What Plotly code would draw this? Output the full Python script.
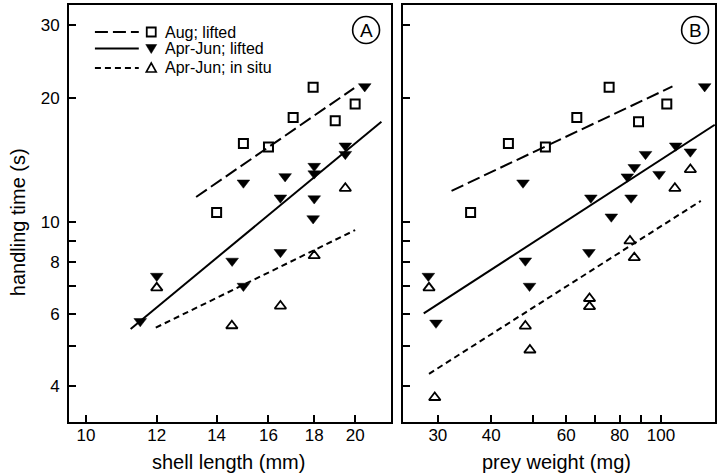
import plotly.graph_objects as go
from plotly.subplots import make_subplots
import math

# ---------------- data ----------------
# Panel A: shell length (mm) vs handling time (s)
a_aug_len = [14.0, 15.0, 16.0, 17.05, 17.95, 19.0, 20.0]
a_aug_time = [10.55, 15.5, 15.2, 17.9, 21.2, 17.6, 19.3]

a_lift_len = [11.5, 12.0, 14.57, 15.0, 15.0, 16.5, 16.7, 16.5, 18.0, 18.0, 18.0, 17.95, 19.5, 19.5, 20.5]
a_lift_time = [5.75, 7.4, 8.05, 7.0, 12.45, 8.45, 12.9, 11.45, 13.66, 13.1, 11.4, 10.2, 15.3, 14.6, 21.3]

a_situ_len = [12.0, 14.56, 16.5, 18.0, 19.5]
a_situ_time = [6.93, 5.61, 6.26, 8.29, 12.07]

a_fit_aug_x = [13.28, 19.95]
a_fit_aug_y = [11.5, 21.1]
a_fit_lift_x = [11.22, 21.4]
a_fit_lift_y = [5.51, 17.5]
a_fit_situ_x = [11.97, 20.0]
a_fit_situ_y = [5.55, 9.56]

# Panel B: prey weight (mg) vs handling time (s)
b_aug_wt = [35.8, 43.9, 53.6, 63.5, 75.6, 88.6, 103.2]
b_aug_time = [10.55, 15.5, 15.2, 17.9, 21.2, 17.5, 19.3]

b_lift_wt = [28.5, 29.7, 48.1, 49.2, 67.8, 47.5, 68.5, 76.5, 85.1, 83.4, 86.6, 92.0, 99.0, 108.3, 117.2, 126.6]
b_lift_time = [7.4, 5.7, 8.06, 7.0, 8.45, 12.45, 11.45, 10.3, 11.45, 12.88, 13.57, 14.6, 13.06, 15.3, 14.8, 21.3]

b_situ_wt = [28.6, 29.5, 48.1, 49.3, 68.0, 68.0, 84.6, 86.6, 107.8, 117.2]
b_situ_time = [6.93, 3.76, 5.6, 4.9, 6.53, 6.24, 9.0, 8.2, 12.07, 13.4]

b_fit_aug_x = [32.3, 106.4]
b_fit_aug_y = [11.9, 21.3]
b_fit_lift_x = [27.8, 133.7]
b_fit_lift_y = [6.01, 17.2]
b_fit_situ_x = [28.6, 124.0]
b_fit_situ_y = [4.29, 11.25]

y_ticks = [4, 5, 6, 7, 8, 9, 10, 20, 30]
y_ticktext = ["4", "", "6", "", "8", "", "10", "20", "30"]
a_xticks = [10, 12, 14, 16, 18, 20]
a_xticktext = ["10", "12", "14", "16", "18", "20"]
b_xticks = [30, 40, 50, 60, 70, 80, 90, 100]
b_xticktext = ["30", "40", "", "60", "", "80", "", "100"]

legend_labels = ["Aug; lifted", "Apr-Jun; lifted", "Apr-Jun; in situ"]

# ---------------- styling ----------------
FONT = "Liberation Sans, Arial, Helvetica, sans-serif"
W_FIG, H_FIG = 717, 474
L, T, R, B = 69, 5, 0, 52
PW, PH = W_FIG - L - R, H_FIG - T - B


def px(x):
    return (x - L) / PW


def py(y):
    return (T + PH - y) / PH


fig = make_subplots(rows=1, cols=2, horizontal_spacing=0.0)

dash_long = "13px,5px"
dash_short = "6px,4px"
lw = 2

sq = dict(symbol="square-open", size=9, color="black", line=dict(color="black", width=2))
tdown = dict(symbol="triangle-down", size=11, color="black", line=dict(color="black", width=0.5))
tup = dict(symbol="triangle-up-open", size=10, color="black", line=dict(color="black", width=1.8))

for col, (fx1, fy1, fx2, fy2, fx3, fy3, ax, ay, lx, ly, sx, sy) in enumerate([
    (a_fit_aug_x, a_fit_aug_y, a_fit_lift_x, a_fit_lift_y, a_fit_situ_x, a_fit_situ_y,
     a_aug_len, a_aug_time, a_lift_len, a_lift_time, a_situ_len, a_situ_time),
    (b_fit_aug_x, b_fit_aug_y, b_fit_lift_x, b_fit_lift_y, b_fit_situ_x, b_fit_situ_y,
     b_aug_wt, b_aug_time, b_lift_wt, b_lift_time, b_situ_wt, b_situ_time),
], start=1):
    fig.add_trace(go.Scatter(x=fx1, y=fy1, mode="lines",
                             line=dict(color="black", width=lw, dash=dash_long),
                             showlegend=False), row=1, col=col)
    fig.add_trace(go.Scatter(x=fx2, y=fy2, mode="lines",
                             line=dict(color="black", width=lw),
                             showlegend=False), row=1, col=col)
    fig.add_trace(go.Scatter(x=fx3, y=fy3, mode="lines",
                             line=dict(color="black", width=lw, dash=dash_short),
                             showlegend=False), row=1, col=col)
    fig.add_trace(go.Scatter(x=ax, y=ay, mode="markers", marker=sq,
                             showlegend=False), row=1, col=col)
    fig.add_trace(go.Scatter(x=lx, y=ly, mode="markers", marker=tdown,
                             showlegend=False), row=1, col=col)
    fig.add_trace(go.Scatter(x=sx, y=sy, mode="markers", marker=tup,
                             showlegend=False), row=1, col=col)

axis_common = dict(type="log", showline=True, linecolor="black", linewidth=2,
                   mirror=True, ticks="inside", ticklen=7, tickwidth=1.5,
                   tickcolor="black", showgrid=False, zeroline=False,
                   tickfont=dict(family=FONT, size=17, color="black"))

yrange = [math.log10(30) - (422 - 25) / 413.0, math.log10(30) + (25 - 5) / 413.0]

fig.update_xaxes(row=1, col=1, domain=[0, (392 - L) / PW],
                 range=[1 - 17 / 897.0, 1 + (392 - 86) / 897.0],
                 tickvals=a_xticks, ticktext=a_xticktext, ticklabelstandoff=-3,
                 **axis_common)
fig.update_xaxes(row=1, col=2, domain=[(404 - L) / PW, 1],
                 range=[math.log10(30) - 35 / 428.0, math.log10(30) + 278 / 428.0],
                 tickvals=b_xticks, ticktext=b_xticktext, ticklabelstandoff=-3,
                 **axis_common)
fig.update_yaxes(row=1, col=1, range=yrange, tickvals=y_ticks, ticktext=y_ticktext,
                 ticklabelstandoff=4, **axis_common)
fig.update_yaxes(row=1, col=2, range=yrange, tickvals=y_ticks, ticktext=y_ticktext,
                 showticklabels=False, **axis_common)

shapes = []
annotations = []

# legend
rows_y = [32, 48.5, 68]
line_dashes = [dash_long, "solid", dash_short]
for yy, dsh, lab in zip(rows_y, line_dashes, legend_labels):
    shapes.append(dict(type="line", xref="paper", yref="paper",
                       x0=px(95), x1=px(139), y0=py(yy), y1=py(yy),
                       line=dict(color="black", width=lw, dash=dsh)))
    annotations.append(dict(text=lab, xref="paper", yref="paper",
                            x=px(163), y=py(yy), xanchor="left", yanchor="middle",
                            showarrow=False,
                            font=dict(family=FONT, size=16, color="black")))

# legend symbols
cx = 151.5
yy = rows_y[0]
shapes.append(dict(type="rect", xref="paper", yref="paper",
                   x0=px(cx - 4.5), x1=px(cx + 4.5), y0=py(yy + 4.5), y1=py(yy - 4.5),
                   line=dict(color="black", width=1.8)))
yy = rows_y[1]
shapes.append(dict(type="path", xref="paper", yref="paper",
                   path=f"M {px(cx-5.5)} {py(yy-4)} L {px(cx+5.5)} {py(yy-4)} L {px(cx)} {py(yy+5)} Z",
                   fillcolor="black", line=dict(color="black", width=0.5)))
yy = rows_y[2]
shapes.append(dict(type="path", xref="paper", yref="paper",
                   path=f"M {px(cx-5)} {py(yy+4)} L {px(cx+5)} {py(yy+4)} L {px(cx)} {py(yy-5)} Z",
                   line=dict(color="black", width=1.6)))

# panel labels
for ccx, lab in [(367, "A"), (697, "B")]:
    shapes.append(dict(type="circle", xref="paper", yref="paper",
                       x0=px(ccx - 13.5), x1=px(ccx + 13.5), y0=py(30 + 13.5), y1=py(30 - 13.5),
                       line=dict(color="black", width=1.6)))
    annotations.append(dict(text=lab, xref="paper", yref="paper",
                            x=px(ccx), y=py(30.5), xanchor="center", yanchor="middle",
                            showarrow=False,
                            font=dict(family=FONT, size=19, color="black")))

# axis titles
annotations.append(dict(text="shell length (mm)", xref="paper", yref="paper",
                        x=px(229), y=py(462), xanchor="center", yanchor="middle",
                        showarrow=False, font=dict(family=FONT, size=20, color="black")))
annotations.append(dict(text="prey weight (mg)", xref="paper", yref="paper",
                        x=px(558), y=py(462), xanchor="center", yanchor="middle",
                        showarrow=False, font=dict(family=FONT, size=20, color="black")))
annotations.append(dict(text="handling time (s)", xref="paper", yref="paper",
                        x=px(18), y=py(222), xanchor="center", yanchor="middle",
                        textangle=-90, showarrow=False,
                        font=dict(family=FONT, size=20, color="black")))

fig.update_layout(width=W_FIG, height=H_FIG,
                  margin=dict(l=L, r=R, t=T, b=B, pad=0),
                  paper_bgcolor="white", plot_bgcolor="white",
                  font=dict(family=FONT, color="black"),
                  shapes=shapes, annotations=annotations, showlegend=False)

fig.write_html("out.html")
